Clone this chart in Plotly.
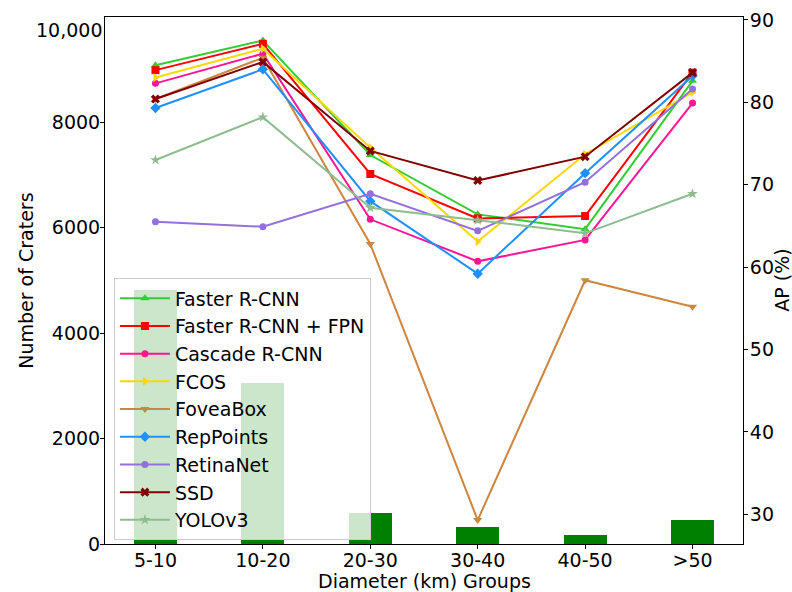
import plotly.graph_objects as go

categories = ["5-10", "10-20", "20-30", "30-40", "40-50", ">50"]
crater_counts = [4814, 3063, 583, 317, 165, 450]

faster_rcnn = [84.5, 87.5, 73.6, 66.4, 64.6, 82.6]
faster_rcnn_fpn = [83.9, 87.1, 71.3, 65.9, 66.2, 83.6]
cascade_rcnn = [82.3, 85.9, 65.8, 60.7, 63.3, 79.9]
fcos = [83.0, 86.5, 74.5, 63.1, 73.7, 81.2]
foveabox = [80.4, 85.4, 62.8, 29.3, 58.4, 55.2]
reppoints = [79.3, 84.0, 68.0, 59.2, 71.4, 83.2]
retinanet = [65.5, 64.9, 68.9, 64.4, 70.3, 81.6]
ssd = [80.4, 84.9, 74.1, 70.5, 73.4, 83.6]
yolov3 = [73.0, 78.2, 67.2, 65.7, 64.1, 68.9]

series = [
    ("Faster R-CNN", faster_rcnn, "#32CD32", "triangle-up"),
    ("Faster R-CNN + FPN", faster_rcnn_fpn, "#FF0000", "square"),
    ("Cascade R-CNN", cascade_rcnn, "#FF1493", "circle"),
    ("FCOS", fcos, "#FFD700", "triangle-right"),
    ("FoveaBox", foveabox, "#CD853F", "triangle-down"),
    ("RepPoints", reppoints, "#1E90FF", "diamond"),
    ("RetinaNet", retinanet, "#9370DB", "circle"),
    ("SSD", ssd, "#800000", "x"),
    ("YOLOv3", yolov3, "#8FBC8F", "star"),
]

FONT = "DejaVu Sans"
FS = 19

fig = go.Figure()
fig.add_trace(go.Bar(x=categories, y=crater_counts, width=0.4,
                     marker=dict(color="#008000", line=dict(width=0)),
                     showlegend=False, yaxis="y"))
for name, vals, color, sym in series:
    fig.add_trace(go.Scatter(
        x=categories, y=vals, name=name, yaxis="y2", mode="lines+markers",
        line=dict(color=color, width=2),
        marker=dict(color=color, symbol=sym, size=8 if sym != "circle" else 7,
                    line=dict(width=0)),
    ))

fig.update_layout(
    width=792, height=592,
    margin=dict(l=105, r=49, t=17, b=48, autoexpand=False),
    paper_bgcolor="white", plot_bgcolor="white",
    font=dict(family=FONT, size=FS, color="black"),
    bargap=0,
    xaxis=dict(
        type="category", range=[-0.47, 5.47],
        showline=True, linecolor="black", linewidth=1, mirror=True,
        ticks="outside", ticklen=4, tickcolor="black", showgrid=False,
        tickfont=dict(size=FS), automargin=False, ticklabelstandoff=-5,
    ),
    yaxis=dict(
        range=[0, 10000], tickvals=[0, 2000, 4000, 6000, 8000],
        ticktext=["0", "2000", "4000", "6000", "8000"],
        showline=True, linecolor="black", linewidth=1,
        ticks="outside", ticklen=4, tickcolor="black", showgrid=False,
        zeroline=False, tickfont=dict(size=FS), automargin=False,
        ticklabelstandoff=-4,
    ),
    yaxis2=dict(
        range=[26.4, 90.35], overlaying="y", side="right",
        tickvals=[30, 40, 50, 60, 70, 80, 90],
        showline=True, linecolor="black", linewidth=1,
        ticks="outside", ticklen=4, tickcolor="black", showgrid=False,
        zeroline=False, tickfont=dict(size=FS), automargin=False,
        ticklabelstandoff=-2,
    ),
    legend=dict(
        x=0.014, y=0.504, xanchor="left", yanchor="top",
        bgcolor="rgba(255,255,255,0.8)", bordercolor="#cccccc", borderwidth=1,
        font=dict(size=FS, family=FONT), itemwidth=50,
    ),
    annotations=[
        dict(text="10,000", xref="paper", yref="y", x=0, y=10000,
             xanchor="right", yanchor="middle", xshift=-1, yshift=-13,
             showarrow=False, font=dict(size=FS, family=FONT)),
        dict(text="Diameter (km) Groups", xref="paper", yref="paper",
             x=0.5, y=-0.071, xanchor="center", yanchor="middle",
             showarrow=False, font=dict(size=FS, family=FONT)),
        dict(text="Number of Craters", xref="paper", yref="paper",
             x=-0.125, y=0.5, xanchor="center", yanchor="middle", textangle=-90,
             showarrow=False, font=dict(size=FS, family=FONT)),
        dict(text="AP (%)", xref="paper", yref="paper",
             x=1.060, y=0.5, xanchor="center", yanchor="middle", textangle=-90,
             showarrow=False, font=dict(size=FS, family=FONT)),
    ],
)

fig.write_html(
    "out.html",
    config={"displayModeBar": False},
    post_script="document.body.style.margin='0';document.body.style.overflow='hidden';",
)
